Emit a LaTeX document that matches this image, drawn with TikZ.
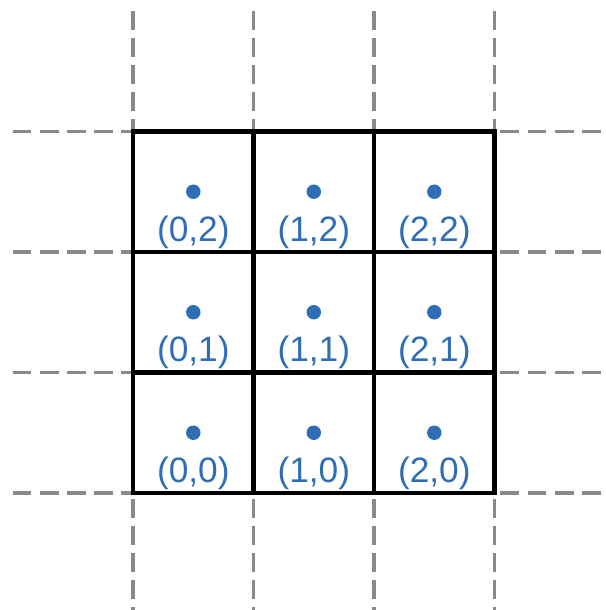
\documentclass[tikz,border=0pt]{standalone}
\usepackage{fontspec}
\setmainfont{Liberation Sans}
\usetikzlibrary{positioning}
\definecolor{gridgray}{HTML}{8A8A8A}
\definecolor{ptblue}{HTML}{2F6EB5}

\begin{document}
\begin{tikzpicture}[
  x=3cm, y=3cm,
  guide/.style={draw=gridgray, line width=2.4pt, dash pattern=on 13.4pt off 5.8pt},
  cellline/.style={draw=black, line width=3.2pt, line cap=rect},
  pt/.style={circle, fill=ptblue, inner sep=0pt, minimum size=0.36cm},
  coordlabel/.style={font=\fontsize{25}{30}\selectfont, text=ptblue, inner sep=0pt},
]
  \useasboundingbox (-1.104,-0.971) rectangle (3.917,4.091);
  \clip (-1.104,-0.971) rectangle (3.917,4.091);

  % dashed guide lines
  \foreach \k in {0,...,3} {
    \draw[guide] (\k,4) -- (\k,-1);
    \draw[guide] (-1,\k) -- (4,\k);
  }

  % the 3x3 cells
  \foreach \k in {0,...,3} {
    \draw[cellline] (\k,0) -- (\k,3);
    \draw[cellline] (0,\k) -- (3,\k);
  }

  % cell centres with their indices
  \foreach \i in {0,1,2} {
    \foreach \j in {0,1,2} {
      \node[pt] (c\i\j) at (\i+0.5,\j+0.5) {};
      \node[coordlabel, below=0.4cm of c\i\j] (l\i\j) {(\i,\j)};
    }
  }
\end{tikzpicture}
\end{document}
